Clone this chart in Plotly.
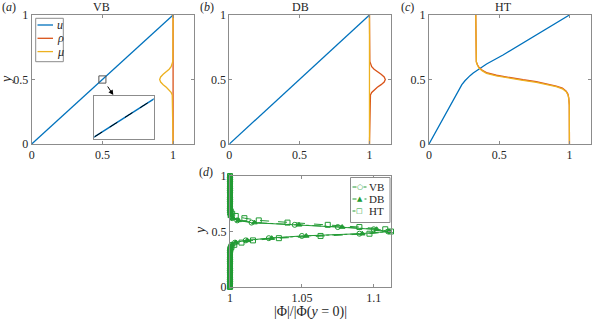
import plotly.graph_objects as go

W, H = 592, 322
FONT = "'Liberation Serif', 'Times New Roman', serif"
BLUE, ORANGE, YELLOW = '#0072BD', '#D95319', '#EDB120'
GREEN = 'rgb(34,155,52)'
GREY = '#8c8c8c'
INK = '#262626'

# ---- panel data -------------------------------------------------------
u_x = [0, 1]
u_y = [0, 1]
flat_x = [1, 1]
flat_y = [0, 1]

bump_y = [0, 0.36, 0.38, 0.40, 0.42, 0.44, 0.46, 0.48, 0.50,
          0.52, 0.54, 0.56, 0.58, 0.60, 0.62, 0.64, 1]
mu_vb = [1, 0.998, 0.994, 0.986, 0.972, 0.952, 0.930, 0.912, 0.905,
         0.912, 0.930, 0.952, 0.972, 0.986, 0.994, 0.998, 1]
rho_db = [1, 1.0026, 1.007, 1.016, 1.033, 1.056, 1.083, 1.105, 1.113,
          1.105, 1.083, 1.056, 1.033, 1.016, 1.007, 1.0026, 1]

# HT panel
ht_u_y = [0, 0.1, 0.2, 0.3, 0.4, 0.43, 0.46, 0.49, 0.51, 0.53, 0.55,
          0.57, 0.59, 0.62, 0.69, 0.8, 0.9, 1.0]
ht_u_x = [0, 0.05, 0.1, 0.15, 0.2, 0.216, 0.234, 0.256, 0.272, 0.292, 0.315,
          0.34, 0.368, 0.41, 0.527, 0.694, 0.847, 1.0]
ht_mu_x = [0.333, 0.333, 0.334, 0.337, 0.345, 0.357, 0.38, 0.409, 0.48, 0.574,
           0.67, 0.764, 0.85, 0.906, 0.95, 0.977, 0.99, 0.995, 0.999, 1.0, 1.0]
ht_mu_y = [1.0, 0.7, 0.66, 0.635, 0.61, 0.587, 0.567, 0.548, 0.528, 0.509,
           0.493, 0.478, 0.46, 0.444, 0.428, 0.405, 0.38, 0.354, 0.3, 0.225, 0.0]
ht_rho_y = [1.0, 0.7, 0.662, 0.638, 0.614, 0.592, 0.572, 0.553, 0.533, 0.514,
            0.498, 0.483, 0.465, 0.449, 0.433, 0.41, 0.385, 0.358, 0.303, 0.228, 0.0]

# inset of (a)
inset_x = [0.47, 0.53]
inset_y = [0.47, 0.53]
zoom_box_x = [0.475, 0.525]
zoom_box_y = [0.472, 0.528]

# panel (d): amplitude ratio
phi_y = [0.00, 0.02, 0.04, 0.06, 0.08, 0.10, 0.12, 0.14, 0.16, 0.18,
         0.20, 0.22, 0.24, 0.26, 0.28, 0.30, 0.32, 0.34, 0.36, 0.38,
         0.40, 0.42, 0.44, 0.46, 0.48, 0.50, 0.52, 0.54, 0.56, 0.58,
         0.60, 0.62, 0.64, 0.66, 0.68, 0.70, 0.72, 0.74, 0.76, 0.78,
         0.80, 0.82, 0.84, 0.86, 0.88, 0.90, 0.92, 0.94, 0.96, 0.98, 1.00]
phi_vb = [1] * 17 + [1.0001, 1.0003, 1.001, 1.0035, 1.011, 1.027, 1.05, 1.09,
                     1.11, 1.10, 1.075, 1.045, 1.015, 1.005, 1.0015, 1.0004,
                     1.0001] + [1] * 17
phi_db = [1] * 17 + [1.0001, 1.0004, 1.0012, 1.004, 1.012, 1.029, 1.053, 1.092,
                     1.111, 1.102, 1.078, 1.048, 1.017, 1.006, 1.002, 1.0005,
                     1.0001] + [1] * 17
phi_ht = [1] * 17 + [1.0003, 1.001, 1.003, 1.008, 1.016, 1.034, 1.063, 1.097,
                     1.112, 1.108, 1.09, 1.068, 1.04, 1.02, 1.01, 1.004,
                     1.0015, 1.0005] + [1] * 16

legend_a = [('<i>u</i>', BLUE), ('<i>ρ</i>', ORANGE), ('<i>μ</i>', YELLOW)]
legend_d = [('VB', 'solid', '○'), ('DB', 'dashdot', '▲'), ('HT', 'dash', '□')]


def px(x):
    return x / W


def py(y):
    return 1 - y / H


fig = go.Figure()

# (a) VB
fig.add_trace(go.Scatter(x=u_x, y=u_y, mode='lines', line=dict(color=BLUE, width=1.3),
                         xaxis='x', yaxis='y'))
fig.add_trace(go.Scatter(x=flat_x, y=flat_y, mode='lines', line=dict(color=ORANGE, width=1.3),
                         xaxis='x', yaxis='y'))
fig.add_trace(go.Scatter(x=mu_vb, y=bump_y, mode='lines', line=dict(color=YELLOW, width=1.3),
                         xaxis='x', yaxis='y'))
# inset
fig.add_trace(go.Scatter(x=inset_x, y=inset_y, mode='lines', line=dict(color=BLUE, width=1.5),
                         xaxis='x5', yaxis='y5'))
fig.add_trace(go.Scatter(x=inset_x, y=inset_y, mode='lines',
                         line=dict(color='black', width=1, dash='dash'),
                         xaxis='x5', yaxis='y5'))

# (b) DB
fig.add_trace(go.Scatter(x=u_x, y=u_y, mode='lines', line=dict(color=BLUE, width=1.3),
                         xaxis='x2', yaxis='y2'))
fig.add_trace(go.Scatter(x=rho_db, y=bump_y, mode='lines', line=dict(color=ORANGE, width=1.3),
                         xaxis='x2', yaxis='y2'))
fig.add_trace(go.Scatter(x=flat_x, y=flat_y, mode='lines', line=dict(color=YELLOW, width=1.3),
                         xaxis='x2', yaxis='y2'))

# (c) HT
fig.add_trace(go.Scatter(x=ht_u_x, y=ht_u_y, mode='lines', line=dict(color=BLUE, width=1.3),
                         xaxis='x3', yaxis='y3'))
fig.add_trace(go.Scatter(x=ht_mu_x, y=ht_rho_y, mode='lines', line=dict(color=ORANGE, width=1.3),
                         xaxis='x3', yaxis='y3'))
fig.add_trace(go.Scatter(x=ht_mu_x, y=ht_mu_y, mode='lines', line=dict(color=YELLOW, width=1.3),
                         xaxis='x3', yaxis='y3'))

# (d)
for name, xs, dash, sym in [('VB', phi_vb, 'solid', 'circle-open'),
                            ('DB', phi_db, 'dashdot', 'triangle-up'),
                            ('HT', phi_ht, 'dash', 'square-open')]:
    fig.add_trace(go.Scatter(x=xs, y=phi_y, mode='lines+markers', name=name,
                             line=dict(color=GREEN, width=1, dash=dash),
                             marker=dict(symbol=sym, size=5, color=GREEN,
                                         line=dict(color=GREEN, width=1)),
                             cliponaxis=False, xaxis='x4', yaxis='y4'))

tickfont = dict(family=FONT, size=12, color=INK)
ax = dict(showline=True, mirror='ticks', linecolor=GREY, linewidth=1,
          ticks='inside', ticklen=3, tickcolor=GREY, showgrid=False,
          zeroline=False, tickfont=tickfont, automargin=False)
ticks01 = dict(tickvals=[0, 0.5, 1], ticktext=['0', '0.5', '1'])
inset_ax = dict(showline=True, mirror=True, linecolor=GREY, showgrid=False,
                zeroline=False, showticklabels=False, ticks='', automargin=False)

top = [py(144), py(15)]
fig.update_layout(
    width=W, height=H, autosize=False, showlegend=False,
    margin=dict(l=0, r=0, t=0, b=0, pad=0),
    plot_bgcolor='white', paper_bgcolor='white',
    font=dict(family=FONT, color=INK),
    xaxis=dict(ax, **ticks01, domain=[px(31.7), px(194.3)], range=[0, 1.15], anchor='y'),
    yaxis=dict(ax, **ticks01, domain=top, range=[0, 1], anchor='x'),
    xaxis2=dict(ax, **ticks01, domain=[px(229.3), px(390.5)], range=[0, 1.15], anchor='y2'),
    yaxis2=dict(ax, **ticks01, domain=top, range=[0, 1], anchor='x2'),
    xaxis3=dict(ax, **ticks01, domain=[px(429), px(590.5)], range=[0, 1.15], anchor='y3'),
    yaxis3=dict(ax, **ticks01, domain=top, range=[0, 1], anchor='x3'),
    xaxis4=dict(ax, domain=[px(230), px(391)], range=[1, 1.112], anchor='y4',
                tickvals=[1, 1.05, 1.1], ticktext=['1', '1.05', '1.1']),
    yaxis4=dict(ax, **ticks01, domain=[py(287), py(176)], range=[0, 1], anchor='x4'),
    xaxis5=dict(inset_ax, domain=[px(94.3), px(153.7)], range=[0.48, 0.52], anchor='y5'),
    yaxis5=dict(inset_ax, domain=[py(139), py(95.7)], range=[0.4779, 0.5235], anchor='x5'),
)

fig.add_shape(type='rect', xref='x', yref='y',
              x0=zoom_box_x[0], x1=zoom_box_x[1], y0=zoom_box_y[0], y1=zoom_box_y[1],
              line=dict(color='#555555', width=1))

text = dict(font=dict(family=FONT, size=12, color=INK), showarrow=False,
            xref='paper', yref='paper', yanchor='middle')
notes = [
    ('VB', 101, 7), ('DB', 300, 7), ('HT', 503, 7),
    ('(<i>a</i>)', 9, 7), ('(<i>b</i>)', 207, 7), ('(<i>c</i>)', 407, 7),
    ('(<i>d</i>)', 206, 172),
]
for t, x, y in notes:
    fig.add_annotation(text=t, x=px(x), y=py(y), xanchor='center', **text)
big = dict(text, font=dict(family=FONT, size=14, color=INK))
fig.add_annotation(text='<i>y</i>', x=px(6), y=py(80), textangle=-90, xanchor='center', **big)
fig.add_annotation(text='<i>y</i>', x=px(200), y=py(231), textangle=-90, xanchor='center', **big)
fig.add_annotation(text='|Φ|/|Φ(<i>y</i> = 0)|', x=px(310), y=py(312), xanchor='center', **big)
fig.add_annotation(x=px(113.3), y=py(95), ax=-6.6, ay=-10, xref='paper', yref='paper',
                   text='', showarrow=True, arrowhead=2, arrowsize=1,
                   arrowwidth=1, arrowcolor='black')

# compact MATLAB-style legend boxes
fig.add_shape(type='rect', xref='paper', yref='paper', x0=px(35.7), x1=px(63.3),
              y0=py(61.7), y1=py(18.3), line=dict(color=GREY, width=1),
              fillcolor='white', layer='above')
for i, (label, color) in enumerate(legend_a):
    yy = 25 + 13.3 * i
    fig.add_shape(type='line', xref='paper', yref='paper', x0=px(37.5), x1=px(53),
                  y0=py(yy), y1=py(yy), line=dict(color=color, width=1.3))
    fig.add_annotation(text=label, x=px(54.5), y=py(yy), xanchor='left', **text)

small = dict(text, font=dict(family=FONT, size=11, color=INK))
fig.add_shape(type='rect', xref='paper', yref='paper', x0=px(350.5), x1=px(390),
              y0=py(222.5), y1=py(177.5), line=dict(color=GREY, width=1),
              fillcolor='white', layer='above')
for i, (label, dash, sym) in enumerate(legend_d):
    yy = 187 + 12 * i
    fig.add_shape(type='line', xref='paper', yref='paper', x0=px(352.5), x1=px(366.5),
                  y0=py(yy), y1=py(yy), line=dict(color=GREEN, width=1, dash=dash))
    fig.add_annotation(text=sym, x=px(359.5), y=py(yy), xanchor='center', bgcolor='white',
                       borderpad=0,
                       **dict(text, font=dict(family='DejaVu Sans', size=7, color=GREEN)))
    fig.add_annotation(text=label, x=px(367), y=py(yy), xanchor='left', **small)

fig.write_html("out.html", config={'displayModeBar': False},
               post_script="document.body.style.margin='0';")
